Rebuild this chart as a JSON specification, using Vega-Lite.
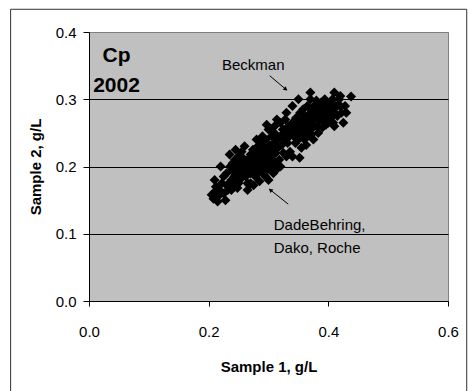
{
  "$schema": "https://vega.github.io/schema/vega-lite/v6.json",
  "autosize": {"type": "none"},
  "width": 359,
  "height": 269,
  "padding": {"left": 89, "top": 32, "right": 21, "bottom": 90},
  "background": "white",
  "config": {
    "font": "Liberation Sans",
    "view": {"fill": "#c0c0c0", "stroke": "#808080", "strokeWidth": 1}
  },
  "layer": [
    {
      "data": {"values": [
        {"s1":0.205,"s2":0.158},{"s1":0.208,"s2":0.152},{"s1":0.21,"s2":0.162},{"s1":0.212,"s2":0.17},{"s1":0.21,"s2":0.18},{"s1":0.215,"s2":0.155},{"s1":0.218,"s2":0.165},{"s1":0.22,"s2":0.2},{"s1":0.222,"s2":0.175},{"s1":0.225,"s2":0.16},{"s1":0.228,"s2":0.15},{"s1":0.23,"s2":0.172},{"s1":0.23,"s2":0.19},{"s1":0.215,"s2":0.148},{"s1":0.225,"s2":0.185},{"s1":0.232,"s2":0.165},
        {"s1":0.235,"s2":0.218},{"s1":0.236,"s2":0.2},{"s1":0.238,"s2":0.18},{"s1":0.24,"s2":0.195},{"s1":0.242,"s2":0.17},{"s1":0.244,"s2":0.21},{"s1":0.245,"s2":0.188},{"s1":0.247,"s2":0.2},{"s1":0.25,"s2":0.175},{"s1":0.25,"s2":0.215},{"s1":0.252,"s2":0.192},{"s1":0.254,"s2":0.205},{"s1":0.255,"s2":0.183},{"s1":0.257,"s2":0.198},{"s1":0.258,"s2":0.212},{"s1":0.24,"s2":0.205},{"s1":0.246,"s2":0.178},{"s1":0.252,"s2":0.2},{"s1":0.256,"s2":0.19},{"s1":0.26,"s2":0.23},{"s1":0.26,"s2":0.205},{"s1":0.262,"s2":0.185},{"s1":0.263,"s2":0.195},{"s1":0.265,"s2":0.175},{"s1":0.268,"s2":0.172},{"s1":0.265,"s2":0.21},{"s1":0.268,"s2":0.2},{"s1":0.27,"s2":0.218},{"s1":0.27,"s2":0.19},{"s1":0.272,"s2":0.205},{"s1":0.274,"s2":0.225},{"s1":0.275,"s2":0.197},{"s1":0.276,"s2":0.212},{"s1":0.278,"s2":0.185},{"s1":0.278,"s2":0.22},{"s1":0.28,"s2":0.2},{"s1":0.28,"s2":0.21},{"s1":0.282,"s2":0.23},{"s1":0.283,"s2":0.192},{"s1":0.285,"s2":0.215},{"s1":0.286,"s2":0.205},{"s1":0.287,"s2":0.235},{"s1":0.288,"s2":0.198},{"s1":0.29,"s2":0.22},{"s1":0.29,"s2":0.21},{"s1":0.292,"s2":0.188},{"s1":0.293,"s2":0.228},{"s1":0.294,"s2":0.203},{"s1":0.295,"s2":0.24},{"s1":0.296,"s2":0.215},{"s1":0.297,"s2":0.262},{"s1":0.298,"s2":0.195},{"s1":0.299,"s2":0.225},{"s1":0.3,"s2":0.21},{"s1":0.3,"s2":0.18},{"s1":0.302,"s2":0.232},{"s1":0.303,"s2":0.218},{"s1":0.304,"s2":0.2},{"s1":0.305,"s2":0.245},{"s1":0.306,"s2":0.225},{"s1":0.307,"s2":0.21},{"s1":0.308,"s2":0.19},{"s1":0.31,"s2":0.235},{"s1":0.31,"s2":0.25},{"s1":0.312,"s2":0.22},{"s1":0.313,"s2":0.195},{"s1":0.314,"s2":0.27},{"s1":0.315,"s2":0.24},{"s1":0.316,"s2":0.228},{"s1":0.318,"s2":0.21},{"s1":0.32,"s2":0.265},{"s1":0.32,"s2":0.245},{"s1":0.322,"s2":0.232},{"s1":0.324,"s2":0.255},{"s1":0.325,"s2":0.22},{"s1":0.326,"s2":0.24},{"s1":0.328,"s2":0.27},{"s1":0.33,"s2":0.28},{"s1":0.33,"s2":0.25},{"s1":0.332,"s2":0.235},{"s1":0.333,"s2":0.26},{"s1":0.335,"s2":0.245},{"s1":0.336,"s2":0.222},{"s1":0.338,"s2":0.255},{"s1":0.34,"s2":0.29},{"s1":0.34,"s2":0.265},{"s1":0.34,"s2":0.215},{"s1":0.342,"s2":0.245},{"s1":0.344,"s2":0.258},{"s1":0.345,"s2":0.235},{"s1":0.346,"s2":0.272},{"s1":0.348,"s2":0.25},{"s1":0.35,"s2":0.3},{"s1":0.35,"s2":0.262},{"s1":0.35,"s2":0.24},{"s1":0.352,"s2":0.213},{"s1":0.353,"s2":0.28},{"s1":0.354,"s2":0.255},{"s1":0.356,"s2":0.268},{"s1":0.357,"s2":0.245},{"s1":0.358,"s2":0.285},{"s1":0.36,"s2":0.26},{"s1":0.36,"s2":0.275},{"s1":0.362,"s2":0.25},{"s1":0.363,"s2":0.232},{"s1":0.364,"s2":0.268},{"s1":0.365,"s2":0.29},{"s1":0.366,"s2":0.258},{"s1":0.368,"s2":0.278},{"s1":0.37,"s2":0.31},{"s1":0.37,"s2":0.3},{"s1":0.37,"s2":0.265},{"s1":0.372,"s2":0.248},{"s1":0.373,"s2":0.285},{"s1":0.374,"s2":0.27},{"s1":0.375,"s2":0.24},{"s1":0.376,"s2":0.26},{"s1":0.378,"s2":0.292},{"s1":0.38,"s2":0.275},{"s1":0.38,"s2":0.26},{"s1":0.382,"s2":0.285},{"s1":0.383,"s2":0.25},{"s1":0.385,"s2":0.268},{"s1":0.386,"s2":0.28},{"s1":0.388,"s2":0.295},{"s1":0.39,"s2":0.27},{"s1":0.39,"s2":0.258},{"s1":0.392,"s2":0.285},{"s1":0.394,"s2":0.3},{"s1":0.395,"s2":0.275},{"s1":0.396,"s2":0.262},{"s1":0.398,"s2":0.29},{"s1":0.4,"s2":0.28},{"s1":0.4,"s2":0.265},{"s1":0.402,"s2":0.295},{"s1":0.404,"s2":0.272},{"s1":0.405,"s2":0.285},{"s1":0.407,"s2":0.3},{"s1":0.408,"s2":0.265},{"s1":0.41,"s2":0.31},{"s1":0.41,"s2":0.28},{"s1":0.412,"s2":0.29},{"s1":0.415,"s2":0.275},{"s1":0.418,"s2":0.3},{"s1":0.42,"s2":0.29},{"s1":0.422,"s2":0.28},{"s1":0.425,"s2":0.265},{"s1":0.428,"s2":0.29},{"s1":0.438,"s2":0.304},
        {"s1":0.265,"s2":0.165},{"s1":0.27,"s2":0.175},{"s1":0.275,"s2":0.172},{"s1":0.285,"s2":0.178},{"s1":0.29,"s2":0.195},{"s1":0.295,"s2":0.185},{"s1":0.3,"s2":0.2},{"s1":0.31,"s2":0.205},{"s1":0.32,"s2":0.2},{"s1":0.33,"s2":0.215},{"s1":0.255,"s2":0.222},{"s1":0.245,"s2":0.225},{"s1":0.235,"s2":0.175},{"s1":0.238,"s2":0.165},{"s1":0.243,"s2":0.185},{"s1":0.248,"s2":0.168},{"s1":0.29,"s2":0.245},{"s1":0.3,"s2":0.255},{"s1":0.31,"s2":0.26},{"s1":0.28,"s2":0.24},{"s1":0.285,"s2":0.225},{"s1":0.355,"s2":0.228},{"s1":0.36,"s2":0.24},{"s1":0.365,"s2":0.245},{"s1":0.37,"s2":0.255},{"s1":0.375,"s2":0.28},{"s1":0.38,"s2":0.298},{"s1":0.385,"s2":0.29},{"s1":0.395,"s2":0.285},{"s1":0.41,"s2":0.26},{"s1":0.415,"s2":0.29},{"s1":0.42,"s2":0.305},{"s1":0.43,"s2":0.28}
      ]},
      "mark": {"type": "point", "shape": "diamond", "filled": true, "color": "black", "opacity": 1, "size": 100},
      "encoding": {
        "x": {"field": "s1", "type": "quantitative",
          "scale": {"domain": [0, 0.6], "nice": false, "zero": false},
          "axis": {"title": "Sample 1, g/L", "values": [0, 0.2, 0.4, 0.6], "format": ".1f", "grid": false, "labelFlush": false,
            "domainColor": "black", "tickColor": "black", "tickSize": 5, "labelFontSize": 15, "labelPadding": 18,
            "labelColor": "black", "titleColor": "black", "titleFontSize": 15, "titleFontWeight": "bold", "titlePadding": 20}},
        "y": {"field": "s2", "type": "quantitative",
          "scale": {"domain": [0, 0.4], "nice": false, "zero": false},
          "axis": {"title": "Sample 2, g/L", "values": [0, 0.1, 0.2, 0.3, 0.4], "format": ".1f",
            "grid": true, "gridColor": {"condition": {"test": "datum.value >= 0.4", "value": "#808080"}, "value": "black"}, "gridWidth": 1,
            "domainColor": "black", "tickColor": "black", "tickSize": 6, "labelFontSize": 15, "labelPadding": 7,
            "labelColor": "black", "titleColor": "black", "titleFontSize": 15, "titleFontWeight": "bold", "titlePadding": 12}}
      }
    },
    {
      "data": {"values": [{"a": 1}]},
      "mark": {"type": "rect", "fill": null, "stroke": "#333333", "strokeWidth": 1},
      "encoding": {
        "x": {"datum": -0.131, "type": "quantitative"},
        "x2": {"datum": 0.6313},
        "y": {"datum": 0.4338, "type": "quantitative"},
        "y2": {"datum": -0.2}
      }
    },
    {
      "data": {"values": [{"a": 1}]},
      "mark": {"type": "rule", "color": "black", "strokeWidth": 1},
      "encoding": {
        "x": {"datum": 0.302, "type": "quantitative"}, "y": {"datum": 0.335, "type": "quantitative"},
        "x2": {"datum": 0.33}, "y2": {"datum": 0.314}
      }
    },
    {
      "data": {"values": [{"a": 1}]},
      "mark": {"type": "point", "shape": "triangle", "filled": true, "color": "black", "opacity": 1, "size": 22, "angle": 129.5},
      "encoding": {"x": {"datum": 0.328, "type": "quantitative"}, "y": {"datum": 0.3155, "type": "quantitative"}}
    },
    {
      "data": {"values": [{"a": 1}]},
      "mark": {"type": "rule", "color": "black", "strokeWidth": 1},
      "encoding": {
        "x": {"datum": 0.333, "type": "quantitative"}, "y": {"datum": 0.144, "type": "quantitative"},
        "x2": {"datum": 0.302}, "y2": {"datum": 0.166}
      }
    },
    {
      "data": {"values": [{"a": 1}]},
      "mark": {"type": "point", "shape": "triangle", "filled": true, "color": "black", "opacity": 1, "size": 22, "angle": 309.3},
      "encoding": {"x": {"datum": 0.304, "type": "quantitative"}, "y": {"datum": 0.1645, "type": "quantitative"}}
    },
    {
      "data": {"values": [{"a": 1}]},
      "mark": {"type": "text", "text": "Beckman", "fontSize": 15, "align": "center", "baseline": "alphabetic", "color": "black"},
      "encoding": {"x": {"datum": 0.2745, "type": "quantitative"}, "y": {"datum": 0.343, "type": "quantitative"}}
    },
    {
      "data": {"values": [{"a": 1}]},
      "mark": {"type": "text", "text": "DadeBehring,", "fontSize": 15, "align": "left", "baseline": "alphabetic", "color": "black"},
      "encoding": {"x": {"datum": 0.3088, "type": "quantitative"}, "y": {"datum": 0.1056, "type": "quantitative"}}
    },
    {
      "data": {"values": [{"a": 1}]},
      "mark": {"type": "text", "text": "Dako, Roche", "fontSize": 15, "align": "left", "baseline": "alphabetic", "color": "black"},
      "encoding": {"x": {"datum": 0.3088, "type": "quantitative"}, "y": {"datum": 0.0709, "type": "quantitative"}}
    },
    {
      "data": {"values": [{"a": 1}]},
      "mark": {"type": "text", "text": "Cp", "fontSize": 21, "fontWeight": "bold", "align": "center", "baseline": "alphabetic", "color": "black"},
      "encoding": {"x": {"datum": 0.046, "type": "quantitative"}, "y": {"datum": 0.355, "type": "quantitative"}}
    },
    {
      "data": {"values": [{"a": 1}]},
      "mark": {"type": "text", "text": "2002", "fontSize": 21, "fontWeight": "bold", "align": "center", "baseline": "alphabetic", "color": "black"},
      "encoding": {"x": {"datum": 0.046, "type": "quantitative"}, "y": {"datum": 0.311, "type": "quantitative"}}
    }
  ]
}
